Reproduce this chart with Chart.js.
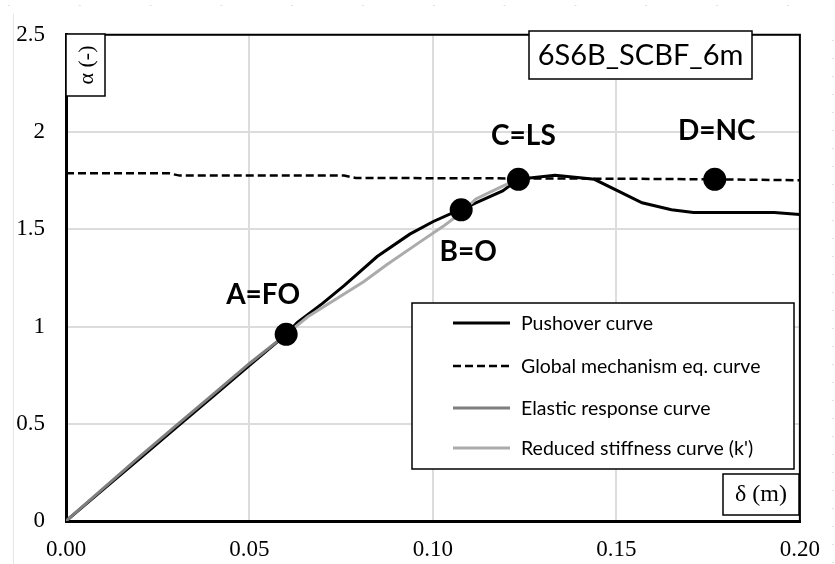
<!DOCTYPE html>
<html>
<head>
<meta charset="utf-8">
<script src="https://cdn.jsdelivr.net/npm/chart.js@4.4.0/dist/chart.umd.min.js"></script>
<style>
  html, body { margin: 0; padding: 0; background: #fff; }
  #wrap { width: 835px; height: 564px; }
</style>
</head>
<body>
<div id="wrap"><canvas id="chart" width="835" height="564"></canvas></div>
<script>
// Pushover curve (black)
const pushoverX = [0, 0.01, 0.02, 0.03, 0.04, 0.05, 0.06, 0.063, 0.070, 0.0758, 0.0848, 0.0937, 0.1001, 0.1055, 0.1077, 0.1117, 0.119, 0.1233, 0.1333, 0.144, 0.157, 0.165, 0.171, 0.193, 0.2]
const pushoverY = [0, 0.16, 0.32, 0.48, 0.64, 0.80, 0.96, 1.02, 1.12, 1.21, 1.36, 1.475, 1.54, 1.585, 1.60, 1.636, 1.697, 1.757, 1.778, 1.757, 1.636, 1.60, 1.586, 1.586, 1.576]

// Global mechanism equilibrium curve (dashed)
const mechanismX = [0, 0.028, 0.031, 0.0758, 0.079, 0.15, 0.1768, 0.2]
const mechanismY = [1.788, 1.788, 1.776, 1.776, 1.764, 1.760, 1.757, 1.752]

// Elastic response curve (dark grey)
const elasticX = [0, 0.01, 0.02, 0.03, 0.04, 0.05, 0.06]
const elasticY = [0, 0.165, 0.33, 0.49, 0.65, 0.81, 0.96]

// Reduced stiffness curve k' (light grey)
const reducedX = [0.06, 0.0659, 0.0812, 0.0874, 0.0964, 0.1028, 0.1077, 0.1117, 0.119, 0.1233]
const reducedY = [0.96, 1.05, 1.232, 1.318, 1.434, 1.515, 1.585, 1.656, 1.722, 1.757]

// Performance points
const stateLabels = ['A=FO', 'B=O', 'C=LS', 'D=NC']
const stateX = [0.06, 0.1077, 0.1233, 0.1768]
const stateY = [0.96, 1.60, 1.757, 1.757]

const xTicks = [0, 0.05, 0.10, 0.15, 0.20]
const yTicks = [0, 0.5, 1, 1.5, 2, 2.5]

const chartTitle = '6S6B_SCBF_6m'
const yTitle = 'α (-)'
const xTitle = 'δ (m)'

const SANS = 'Lato, "Open Sans", sans-serif'
const SERIF = '"Liberation Serif", "DejaVu Serif", serif'

function toPoints(xs, ys) {
  return xs.map((x, i) => ({ x: x, y: ys[i] }))
}

// label offsets (px) from each marker centre
const labelOffsets = [[-23, -39], [7, 42], [5, -43], [2, -48]]

function box(ctx, x, y, w, h) {
  ctx.fillStyle = '#fff'
  ctx.fillRect(x, y, w, h)
  ctx.strokeStyle = '#000'
  ctx.lineWidth = 1.5
  ctx.strokeRect(x, y, w, h)
}

const decorations = {
  id: 'decorations',
  beforeDraw(chart) {
    const ctx = chart.ctx
    ctx.save()
    // faint spreadsheet cell marks behind the chart
    ctx.strokeStyle = '#e6e6e6'
    ctx.lineWidth = 1
    ctx.beginPath()
    ctx.moveTo(13.5, 14)
    ctx.lineTo(13.5, 564)
    ctx.stroke()
    ctx.fillStyle = '#e0e0e0'
    for (let x = 8; x < 835; x += 70.8) ctx.fillRect(x, 5, 2, 1)
    for (let y = 40; y < 564; y += 18) ctx.fillRect(832, y, 2, 1)
    ctx.restore()
  },
  afterDraw(chart) {
    const ctx = chart.ctx
    const a = chart.chartArea
    const xs = chart.scales.x
    const ys = chart.scales.y
    ctx.save()

    // top and right frame
    ctx.strokeStyle = '#000'
    ctx.lineWidth = 2
    ctx.beginPath()
    ctx.moveTo(a.left, a.top)
    ctx.lineTo(a.right, a.top)
    ctx.lineTo(a.right, a.bottom)
    ctx.stroke()

    // point labels
    ctx.fillStyle = '#000'
    ctx.font = 'bold 28px ' + SANS
    ctx.textAlign = 'center'
    ctx.textBaseline = 'middle'
    stateLabels.forEach((txt, i) => {
      const px = xs.getPixelForValue(stateX[i]) + labelOffsets[i][0]
      const py = ys.getPixelForValue(stateY[i]) + labelOffsets[i][1]
      ctx.fillText(txt, px, py)
    })

    // title box
    box(ctx, 529, 31, 223, 48)
    ctx.fillStyle = '#000'
    ctx.font = '29px ' + SANS
    ctx.fillText(chartTitle, 640.5, 56)

    // y title box (rotated)
    box(ctx, a.left, 34, 39, 62)
    ctx.save()
    ctx.translate(a.left + 20, 65)
    ctx.rotate(-Math.PI / 2)
    ctx.fillStyle = '#000'
    ctx.font = '22px ' + SERIF
    ctx.fillText(yTitle, 0, 1)
    ctx.restore()

    // x title box
    box(ctx, 723, 474, 76, 41)
    ctx.fillStyle = '#000'
    ctx.font = '24px ' + SERIF
    ctx.fillText(xTitle, 761, 495)

    // legend
    box(ctx, 412, 303, 382, 166)
    const rows = [323, 366, 408, 448]
    const legendSets = chart.data.datasets.filter(d => d.inLegend)
    ctx.font = '19.5px ' + SANS
    ctx.textAlign = 'left'
    legendSets.forEach((d, i) => {
      ctx.strokeStyle = d.borderColor
      ctx.lineWidth = d.borderWidth
      ctx.setLineDash(d.borderDash || [])
      ctx.beginPath()
      ctx.moveTo(453, rows[i])
      ctx.lineTo(510, rows[i])
      ctx.stroke()
      ctx.setLineDash([])
      ctx.fillStyle = '#000'
      ctx.fillText(d.label, 521, rows[i] + 1)
    })

    ctx.restore()
  }
}

const lineBase = { showLine: true, pointRadius: 0, tension: 0, fill: false, inLegend: true }

new Chart(document.getElementById('chart'), {
  type: 'scatter',
  data: {
    datasets: [
      Object.assign({}, lineBase, {
        label: 'Pushover curve',
        data: toPoints(pushoverX, pushoverY),
        borderColor: '#000', borderWidth: 3, order: 3
      }),
      Object.assign({}, lineBase, {
        label: 'Global mechanism eq. curve',
        data: toPoints(mechanismX, mechanismY),
        borderColor: '#000', borderWidth: 2.5, borderDash: [8, 4], order: 4
      }),
      Object.assign({}, lineBase, {
        label: 'Elastic response curve',
        data: toPoints(elasticX, elasticY),
        borderColor: '#7f7f7f', borderWidth: 3, order: 1
      }),
      Object.assign({}, lineBase, {
        label: "Reduced stiffness curve (k')",
        data: toPoints(reducedX, reducedY),
        borderColor: '#ababab', borderWidth: 3, order: 2
      }),
      {
        label: 'States',
        data: toPoints(stateX, stateY),
        showLine: false,
        pointRadius: 11.5,
        pointBackgroundColor: '#000',
        pointBorderWidth: 0,
        order: 0
      }
    ]
  },
  options: {
    responsive: false,
    animation: false,
    events: [],
    layout: { padding: { left: 0, top: 26, right: 28, bottom: 0 } },
    plugins: {
      legend: { display: false },
      tooltip: { enabled: false }
    },
    scales: {
      x: {
        type: 'linear',
        min: 0,
        max: 0.2,
        afterBuildTicks(scale) { scale.ticks = xTicks.map(v => ({ value: v })) },
        afterFit(scale) { scale.height = 43 },
        grid: { color: '#dcdcdc', lineWidth: 2, drawTicks: false },
        border: { display: true, color: '#000', width: 3 },
        ticks: {
          padding: 15,
          color: '#000',
          font: { family: SERIF, size: 23 },
          callback: v => v.toFixed(2)
        }
      },
      y: {
        type: 'linear',
        min: 0,
        max: 2.5,
        afterBuildTicks(scale) { scale.ticks = yTicks.map(v => ({ value: v })) },
        afterFit(scale) { scale.width = 66 },
        grid: { color: '#dcdcdc', lineWidth: 2, drawTicks: false },
        border: { display: true, color: '#000', width: 3 },
        ticks: {
          padding: 21,
          color: '#000',
          font: { family: SERIF, size: 23 },
          callback: v => String(v)
        }
      }
    }
  },
  plugins: [decorations]
})
</script>
</body>
</html>
